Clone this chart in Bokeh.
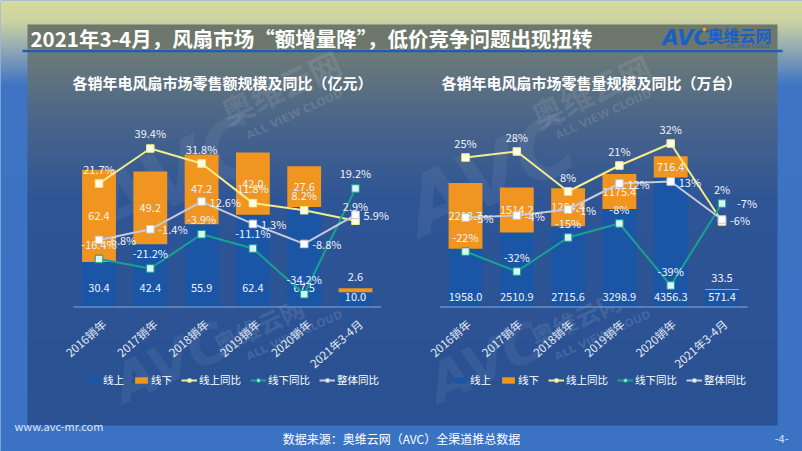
import math
from bokeh.plotting import figure
from bokeh.models import Range1d, Legend, LegendItem
from bokeh.core.properties import value
from bokeh.embed import file_html
from bokeh.resources import INLINE

# ---------------- data ----------------
categories = ["2016销年", "2017销年", "2018销年", "2019销年", "2020销年", "2021年3-4月"]

amt_online = [30.4, 42.4, 55.9, 62.4, 67.5, 10.0]
amt_offline = [62.4, 49.2, 47.2, 42.0, 27.6, 2.6]
amt_online_yoy = [21.7, 39.4, 31.8, 11.8, 8.2, 2.9]
amt_offline_yoy = [-16.4, -21.2, -3.9, -11.1, -34.2, 19.2]
amt_total_yoy = [-6.8, -1.4, 12.6, 1.3, -8.8, 5.9]

vol_online = [1958.0, 2510.9, 2715.6, 3298.9, 4356.3, 571.4]
vol_offline = [2213.7, 1514.2, 1284.4, 1175.4, 716.4, 33.5]
vol_online_yoy = [25, 28, 8, 21, 32, -7]
vol_offline_yoy = [-22, -32, -15, -8, -39, 2]
vol_total_yoy = [-5, -4, -1, 12, 13, -6]

legend_labels = ["线上", "线下", "线上同比", "线下同比", "整体同比"]

title_text = "2021年3-4月，风扇市场“额增量降”，低价竞争问题出现扭转"
chart1_title = "各销年电风扇市场零售额规模及同比（亿元）"
chart2_title = "各销年电风扇市场零售量规模及同比（万台）"
source_text = "数据来源：奥维云网（AVC）全渠道推总数据"

# ---------------- style ----------------
W, H = 802, 451
FONT = "Noto Sans CJK SC"
BLUE_BAR = "#1b56a6"
ORANGE = "#f0951f"
YELLOW = "#f3ec8a"
TEAL = "#18a290"
GRAY = "#c3cbdc"
LABEL = "#eef2fa"

p = figure(width=W, height=H, x_range=Range1d(0, W), y_range=Range1d(H, 0),
           min_border=0, toolbar_location=None, output_backend="svg",
           x_axis_location=None, y_axis_location=None, outline_line_color=None,
           background_fill_color="#3a72c3", border_fill_color="#3a72c3")
p.grid.visible = False


def hexrgb(h):
    return tuple(int(h[i:i + 2], 16) for i in (1, 3, 5))


def interp(stops, y):
    for (y0, c0), (y1, c1) in zip(stops[:-1], stops[1:]):
        if y0 <= y <= y1:
            t = (y - y0) / (y1 - y0) if y1 > y0 else 0
            a, b = hexrgb(c0), hexrgb(c1)
            return "#%02x%02x%02x" % tuple(round(a[k] + (b[k] - a[k]) * t) for k in range(3))
    return stops[-1][1]


def gradient(x0, x1, y0, y1, stops, step=2):
    tops, bots, cols = [], [], []
    y = y0
    while y < y1:
        tops.append(y)
        bots.append(min(y + step + 0.6, y1))
        cols.append(interp(stops, y + step / 2))
        y += step
    p.quad(left=x0, right=x1, top=tops, bottom=bots, fill_color=cols, line_color=None)


# outer slide background
gradient(0, W, 0, H, [(0, "#d6dba0"), (20, "#ccd4a0"), (50, "#8ea6b4"), (85, "#3e74c3"), (451, "#3b72c4")])
# inner panel
gradient(27, 777, 51, 425, [(51, "#6c7b78"), (120, "#4a6589"), (200, "#2e5595"), (425, "#2a5292")])
# title bar
p.quad(left=27, right=777, top=24, bottom=49, fill_color="#6d776b", line_color=None)
p.segment(x0=22, y0=50.5, x1=782, y1=50.5, line_color="#1f5db2", line_width=2.5)

p.text(x=30, y=37, text=[title_text], text_font=value(FONT), text_font_size="20.5px",
       text_font_style="bold", text_color="white", text_baseline="middle")

# logo
p.text(x=662, y=37, text=["AVC"], text_font=value("DejaVu Sans"), text_font_size="21px",
       text_font_style="bold italic", text_color="#1b5fc4", text_baseline="middle")
p.scatter(x=[704], y=[29], size=4, fill_color="#f39a1e", line_color=None)
p.text(x=707, y=34, text=["奥维云网"], text_font=value(FONT), text_font_size="16px",
       text_font_style="bold", text_color="#1b5fc4", text_baseline="middle")
p.text(x=726, y=45, text=["ALL VIEW CLOUD"], text_font=value("DejaVu Sans"), text_font_size="5px",
       text_color="#1b5fc4", text_baseline="middle")

# watermarks
WM = dict(text_color="white", text_align="center", text_baseline="middle", angle=0.43)
for (wx, wy, fs) in [(280, 86, 32), (590, 90, 32), (258, 325, 24), (575, 318, 24)]:
    p.text(x=wx, y=wy, text=["奥维云网"], text_font=value(FONT), text_font_size=f"{fs}px",
           text_font_style="bold", text_alpha=0.11, **WM)
for (wx, wy, fs) in [(294, 114, 11), (603, 114, 11), (294, 335, 11), (602, 335, 11)]:
    p.text(x=wx, y=wy, text=["ALL VIEW CLOUD"], text_font=value("DejaVu Sans"), text_font_size=f"{fs}px",
           text_font_style="bold", text_alpha=0.12, **WM)
for (wx, wy, fs) in [(175, 175, 80), (490, 175, 80), (170, 362, 54), (485, 362, 54)]:
    p.text(x=wx, y=wy, text=["AVC"], text_font=value("DejaVu Sans"), text_font_size=f"{fs}px",
           text_font_style="bold italic", text_alpha=0.06, **WM)

# chart titles
p.text(x=72, y=82, text=[chart1_title], text_font=value(FONT), text_font_size="15px",
       text_font_style="bold", text_color="white", text_baseline="middle")
p.text(x=441, y=82, text=[chart2_title], text_font=value(FONT), text_font_size="15px",
       text_font_style="bold", text_color="white", text_baseline="middle")

# footer
p.text(x=14, y=425, text=["www.avc-mr.com"], text_font=value(FONT), text_font_size="11px",
       text_color="#dfe6f2", text_baseline="middle")
p.text(x=401, y=438, text=[source_text], text_font=value(FONT), text_font_size="12px",
       text_color="white", text_baseline="middle", text_align="center")
p.text(x=788, y=438, text=["-4-"], text_font=value(FONT), text_font_size="11px",
       text_color="#dfe6f2", text_baseline="middle", text_align="right")

extra_x, extra_y = {}, {}
STEP = 51.3


def draw_chart(name, cx0, base_y, vscale, p0_y, pscale, online, offline, on_yoy, off_yoy, tot_yoy,
               vfmt, pfmt, blue_offsets, cat_xoff, legend_x, legend_spacing, last_yellow_right):
    n = len(categories)
    idx = list(range(n))
    xr, yr, pr = name + "x", name + "y", name + "p"
    extra_x[xr] = Range1d(-cx0 / STEP, (W - cx0) / STEP)
    e = base_y / vscale
    extra_y[yr] = Range1d(e - H / vscale, e)
    ep = p0_y / pscale
    extra_y[pr] = Range1d(ep - H / pscale, ep)
    VR = dict(x_range_name=xr, y_range_name=yr)
    PR = dict(x_range_name=xr, y_range_name=pr)

    tops = [a + b for a, b in zip(online, offline)]
    r_on = p.vbar(x=idx, bottom=0, top=online, width=0.66, fill_color=BLUE_BAR, line_color=None, **VR)
    r_off = p.vbar(x=idx, bottom=online, top=tops, width=0.66, fill_color=ORANGE, line_color=None, **VR)
    p.line(x=[-0.5, n - 0.5], y=[0, 0], line_color="#8ea7cf", line_width=1.2, **VR)

    # bar labels
    tfont = dict(text_font=value(FONT), text_font_size="11px", text_color=LABEL,
                 text_align="center", text_baseline="middle")
    p.text(x=idx, y=[0] * n, text=[vfmt(v) for v in online], y_offset=blue_offsets, **tfont, **VR)
    small = [b * vscale < 12 for b in offline]
    off_y = [t if s else a + b / 2 for t, s, a, b in zip(tops, small, online, offline)]
    off_yo = [-11 if s else 0 for s in small]
    p.text(x=idx, y=off_y, text=[vfmt(v) for v in offline], y_offset=off_yo, **tfont, **VR)

    # category labels
    p.text(x=idx, y=[0] * n, text=categories, angle=0.72, x_offset=cat_xoff, y_offset=15,
           text_font=value(FONT), text_font_size="11.5px", text_color="#e3e9f4",
           text_align="right", text_baseline="middle", **VR)

    # lines
    renderers = []
    for vals, col, mfill in [(on_yoy, YELLOW, "#fdfbe6"), (off_yoy, TEAL, "#d9f6f4"), (tot_yoy, GRAY, "#ffffff")]:
        rl = p.line(x=idx, y=vals, line_color=col, line_width=2, **PR)
        rs = p.scatter(x=idx, y=vals, marker="square", size=7.5, fill_color=mfill, line_color=col,
                       line_width=1, **PR)
        renderers.append([rl, rs])

    pf = dict(text_font=value(FONT), text_font_size="11px", text_color=LABEL, text_baseline="middle")
    yx = [0] * n
    yy = [-15] * n
    if last_yellow_right:
        yx[-1], yy[-1] = 25, -19
    p.text(x=idx, y=on_yoy, text=[pfmt(v) for v in on_yoy], x_offset=yx, y_offset=yy,
           text_align="center", **pf, **PR)
    p.text(x=idx, y=off_yoy, text=[pfmt(v) for v in off_yoy], y_offset=-15,
           text_align="center", **pf, **PR)
    p.text(x=idx, y=tot_yoy, text=[pfmt(v) for v in tot_yoy], x_offset=8,
           text_align="left", **pf, **PR)

    items = [LegendItem(label=legend_labels[0], renderers=[r_on]),
             LegendItem(label=legend_labels[1], renderers=[r_off])]
    for lab, rr in zip(legend_labels[2:], renderers):
        items.append(LegendItem(label=lab, renderers=rr))
    leg = Legend(items=items, location=(legend_x, 64), orientation="horizontal",
                 background_fill_alpha=0, border_line_alpha=0, padding=0, margin=0,
                 spacing=legend_spacing, label_standoff=2, glyph_width=16, glyph_height=8,
                 label_height=12, label_text_color="white", label_text_font=FONT,
                 label_text_font_size="10.5px")
    p.add_layout(leg)


draw_chart("c1", 98.5, 306.5, 1.48, 226, 1.98, amt_online, amt_offline, amt_online_yoy,
           amt_offline_yoy, amt_total_yoy, lambda v: f"{v:.1f}", lambda v: f"{v:.1f}%",
           [-19, -19, -19, -19, -19, -10], 5, 85, 9, False)
draw_chart("c2", 465, 306.5, 0.0297, 207, 2.0, vol_online, vol_offline, vol_online_yoy,
           vol_offline_yoy, vol_total_yoy, lambda v: f"{v:.1f}", lambda v: f"{v:.0f}%",
           [-10] * 6, 3, 452, 9, True)

p.extra_x_ranges = extra_x
p.extra_y_ranges = extra_y

open("out.html", "w").write(file_html(p, INLINE))
